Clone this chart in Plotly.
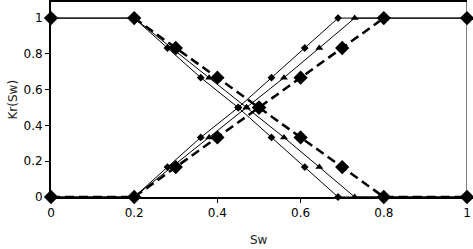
import plotly.graph_objects as go

# Saturation values for each series (Sw)
sw_a = [0.0, 0.2, 0.28, 0.36, 0.45, 0.53, 0.61, 0.69, 1.0]
sw_b = [0.0, 0.2, 0.29, 0.38, 0.47, 0.56, 0.645, 0.73, 1.0]
sw_c = [0.2, 0.3, 0.4, 0.5, 0.6, 0.7, 0.8]
sw_c_ends = [0.0, 1.0]

kro_ab = [1.0, 1.0, 0.833, 0.667, 0.5, 0.333, 0.167, 0.0, 0.0]
krw_ab = [0.0, 0.0, 0.167, 0.333, 0.5, 0.667, 0.833, 1.0, 1.0]
kro_c = [1.0, 0.833, 0.667, 0.5, 0.333, 0.167, 0.0]
krw_c = [0.0, 0.167, 0.333, 0.5, 0.667, 0.833, 1.0]
kr_c_ends_top = [1.0, 1.0]

x_ticks = [0, 0.2, 0.4, 0.6, 0.8, 1]
x_labels = ["0", "0.2", "0.4", "0.6", "0.8", "1"]
y_ticks = [0, 0.2, 0.4, 0.6, 0.8, 1]
y_labels = ["0", "0.2", "0.4", "0.6", "0.8", "1"]

fig = go.Figure()

thin = dict(color="black", width=1)
# Series A
for yv in (kro_ab, krw_ab):
    fig.add_trace(go.Scatter(x=sw_a, y=yv, mode="lines+markers", line=thin,
                             marker=dict(symbol="diamond", size=6, color="black"),
                             cliponaxis=False, showlegend=False))
# Series B
for yv in (kro_ab, krw_ab):
    fig.add_trace(go.Scatter(x=sw_b, y=yv, mode="lines+markers", line=thin,
                             marker=dict(symbol="triangle-up", size=7, color="black"),
                             cliponaxis=False, showlegend=False))
# Series C (dashed, large diamonds)
fig.add_trace(go.Scatter(x=sw_c + [1.0], y=kro_c + [0.0], mode="lines+markers",
                         line=dict(color="black", width=2.5, dash="9px,5px"),
                         marker=dict(symbol="diamond", size=11, color="black"),
                         cliponaxis=False, showlegend=False))
fig.add_trace(go.Scatter(x=[0.0] + sw_c, y=[0.0] + krw_c, mode="lines+markers",
                         line=dict(color="black", width=2.5, dash="9px,5px"),
                         marker=dict(symbol="diamond", size=11, color="black"),
                         cliponaxis=False, showlegend=False))
fig.add_trace(go.Scatter(x=sw_c_ends, y=kr_c_ends_top, mode="markers",
                         marker=dict(symbol="diamond", size=11, color="black"),
                         cliponaxis=False, showlegend=False))

font = dict(family="DejaVu Sans", size=12, color="black")
title_font = dict(family="DejaVu Sans", size=12, color="#222")

fig.update_layout(
    width=473, height=249,
    margin=dict(l=51, r=6, t=2, b=52),
    paper_bgcolor="white", plot_bgcolor="white",
    font=font,
    hovermode=False,
    xaxis=dict(range=[0, 1], tickvals=x_ticks, ticktext=x_labels, automargin=False,
               showgrid=False, zeroline=False, showline=True, linewidth=2,
               linecolor="black", mirror=True, ticks="outside", ticklen=4,
               tickwidth=1, tickcolor="black"),
    yaxis=dict(range=[0, 1.09], tickvals=y_ticks, ticktext=y_labels, automargin=False,
               showgrid=False, zeroline=False, showline=True, linewidth=2,
               linecolor="black", ticks="outside", ticklen=4,
               tickwidth=1, tickcolor="black"),
    shapes=[dict(type="line", xref="x", yref="paper", x0=1, x1=1, y0=0, y1=1,
                 line=dict(color="black", width=1))],
    annotations=[
        dict(text="Sw", xref="paper", yref="paper", x=0.5, y=0, yshift=-43,
             showarrow=False, font=title_font, xanchor="center", yanchor="middle"),
        dict(text="Kr(Sw)", xref="paper", yref="paper", x=0, y=0.5, xshift=-39,
             textangle=-90, showarrow=False, font=title_font,
             xanchor="center", yanchor="middle"),
    ],
)

fig.write_html("out.html", config={"displayModeBar": False},
               post_script="document.body.style.margin='0';document.body.style.overflow='hidden';")
